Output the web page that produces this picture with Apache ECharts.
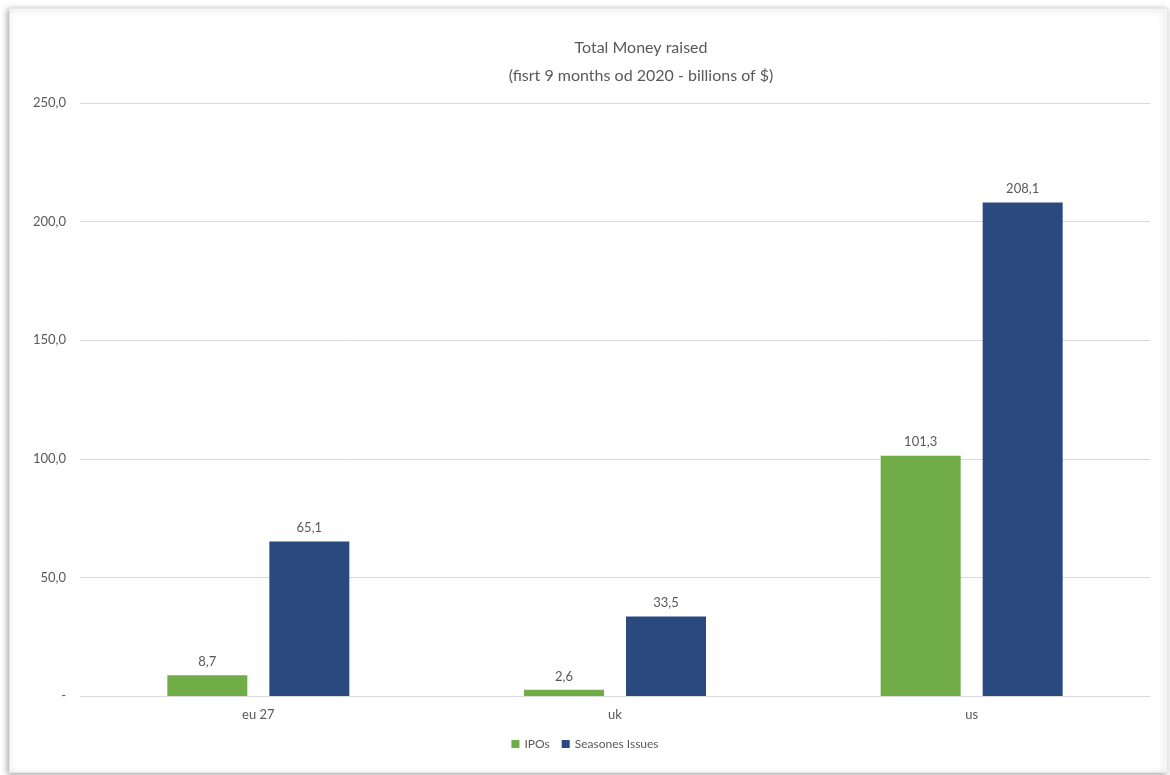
<!DOCTYPE html>
<html>
<head>
<meta charset="utf-8">
<script src="https://cdn.jsdelivr.net/npm/echarts@6/dist/echarts.min.js"></script>
<style>
  html, body { margin: 0; padding: 0; background: #ffffff; }
  #chart { width: 1170px; height: 775px; }
</style>
</head>
<body>
<div id="chart"></div>
<script>
// Money raised in the first nine months of 2020, billions of dollars
const categories = ['eu 27', 'uk', 'us'];
const ipos = [8.7, 2.6, 101.3];
const seasonedIssues = [65.1, 33.5, 208.1];
const seriesNames = ['IPOs', 'Seasones Issues'];
const yTicks = [0, 50, 100, 150, 200, 250];

const textColor = '#595959';
const fontFamily = 'Lato, "Liberation Sans", sans-serif';

// Comma decimal separator, dash for zero
function fmt(v) {
  if (v === 0) return '-';
  return v.toFixed(1).replace('.', ',');
}

const chart = echarts.init(document.getElementById('chart'), null, { renderer: 'canvas' });

chart.setOption({
  backgroundColor: '#ffffff',
  animation: false,
  graphic: [{
    type: 'rect',
    left: 9, top: 8,
    shape: { width: 1158, height: 764 },
    style: {
      fill: '#ffffff',
      stroke: '#e6e6e6',
      lineWidth: 1,
      shadowBlur: 6,
      shadowOffsetX: -2,
      shadowOffsetY: 1,
      shadowColor: 'rgba(0,0,0,0.35)'
    },
    z: -10
  }],
  title: {
    text: 'Total Money raised\n(fisrt 9 months od 2020 - billions of $)',
    left: 636,
    textAlign: 'center',
    top: 29,
    textStyle: {
      color: textColor,
      fontFamily: fontFamily,
      fontWeight: 'normal',
      fontSize: 16,
      lineHeight: 28
    }
  },
  legend: {
    data: seriesNames,
    bottom: 20,
    left: 'center',
    itemWidth: 8,
    itemHeight: 8,
    itemGap: 12,
    icon: 'rect',
    textStyle: { color: textColor, fontFamily: fontFamily, fontSize: 12 }
  },
  grid: { left: 80, right: 20, top: 103, bottom: 79, containLabel: false },
  xAxis: {
    type: 'category',
    data: categories,
    axisLine: { lineStyle: { color: '#d9d9d9', width: 1 } },
    axisTick: { show: false },
    axisLabel: { color: textColor, fontFamily: fontFamily, fontSize: 13, margin: 12 }
  },
  yAxis: {
    type: 'value',
    min: yTicks[0],
    max: yTicks[yTicks.length - 1],
    interval: yTicks[1] - yTicks[0],
    axisLine: { show: false },
    axisTick: { show: false },
    splitLine: { lineStyle: { color: '#d9d9d9', width: 1 } },
    axisLabel: {
      color: textColor, fontFamily: fontFamily, fontSize: 13, margin: 14,
      formatter: fmt
    }
  },
  series: [
    {
      name: seriesNames[0],
      type: 'bar',
      data: ipos,
      barWidth: 80,
      barGap: '27.5%',
      itemStyle: { color: '#70ad47' },
      label: {
        show: true, position: 'top', distance: 7,
        color: textColor, fontFamily: fontFamily, fontSize: 13,
        formatter: p => fmt(p.value)
      }
    },
    {
      name: seriesNames[1],
      type: 'bar',
      data: seasonedIssues,
      barWidth: 80,
      barGap: '27.5%',
      itemStyle: { color: '#2a4a7f' },
      label: {
        show: true, position: 'top', distance: 7,
        color: textColor, fontFamily: fontFamily, fontSize: 13,
        formatter: p => fmt(p.value)
      }
    }
  ]
});
</script>
</body>
</html>
